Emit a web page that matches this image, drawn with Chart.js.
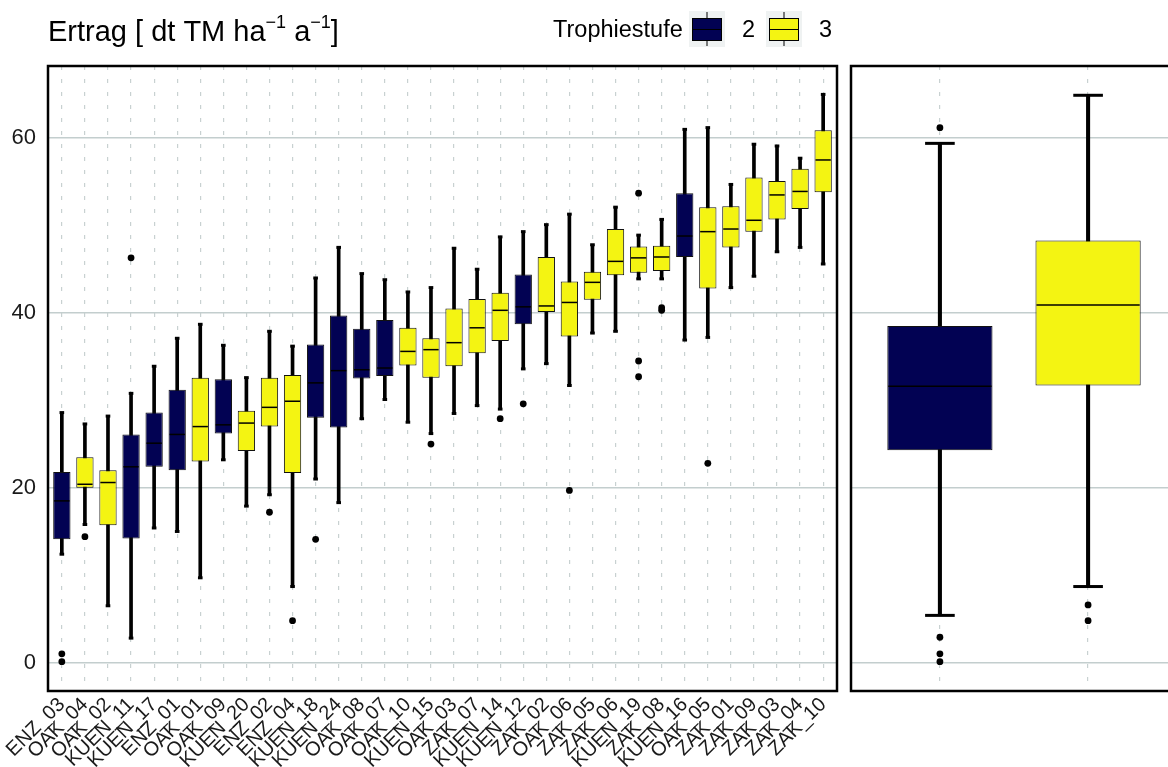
<!DOCTYPE html>
<html>
<head>
<meta charset="utf-8">
<script src="https://cdn.jsdelivr.net/npm/chart.js@4/dist/chart.umd.min.js"></script>
<style>
  html, body { margin: 0; padding: 0; background: #fff; overflow: hidden; width: 1168px; height: 767px; }
  #leftWrap { position: absolute; left: 0; top: 0; }
  #rightWrap { position: absolute; left: 840px; top: 0; }
</style>
</head>
<body>
<div id="leftWrap"><canvas id="siteChart" width="845" height="767"></canvas></div>
<div id="rightWrap"><canvas id="groupChart" width="345" height="767"></canvas></div>
<script>
// sites, sorted by median yield
const sites = ['ENZ_03', 'OAK_04', 'OAK_02', 'KUEN_11', 'KUEN_17', 'ENZ_01', 'OAK_01', 'OAK_09', 'KUEN_20',
  'ENZ_02', 'ENZ_04', 'KUEN_18', 'KUEN_24', 'OAK_08', 'OAK_07', 'OAK_10', 'KUEN_15', 'OAK_03', 'ZAK_07',
  'KUEN_14', 'KUEN_12', 'ZAK_02', 'OAK_06', 'ZAK_05', 'ZAK_06', 'KUEN_19', 'ZAK_08', 'KUEN_16', 'OAK_05',
  'ZAK_01', 'ZAK_09', 'ZAK_03', 'ZAK_04', 'ZAK_10'];
const trophie = [2, 3, 3, 2, 2, 2, 3, 2, 3, 3, 3, 2, 2, 2, 2, 3, 3, 3, 3, 3, 2, 3, 3, 3, 3, 3, 3, 2, 3, 3, 3, 3, 3, 3];

const lowWhisker  = [12.4, 15.8, 6.5, 2.8, 15.4, 15.0, 9.7, 23.2, 17.9, 19.2, 8.7, 21.0, 18.3, 27.9, 30.1, 27.5, 26.2,
  28.5, 29.4, 29.0, 33.6, 34.2, 31.7, 37.7, 37.9, 43.9, 43.9, 36.9, 37.2, 42.9, 44.2, 47.0, 47.5, 45.6];
const q1          = [14.1, 20.0, 15.7, 14.2, 22.4, 22.0, 23.0, 26.2, 24.2, 27.0, 21.7, 28.0, 26.9, 32.5, 32.8, 34.0, 32.6,
  33.9, 35.4, 36.8, 38.7, 40.1, 37.3, 41.5, 44.3, 44.6, 44.8, 46.4, 42.8, 47.5, 49.3, 50.7, 51.9, 53.8];
const median      = [18.5, 20.4, 20.6, 22.4, 25.1, 26.1, 27.0, 27.2, 27.4, 29.2, 29.9, 32.0, 33.4, 33.5, 33.7, 35.6, 35.8,
  36.6, 38.3, 40.3, 40.7, 40.8, 41.2, 43.5, 45.9, 46.3, 46.4, 48.8, 49.3, 49.6, 50.6, 53.5, 53.9, 57.5];
const q3          = [21.8, 23.5, 22.0, 26.1, 28.6, 31.2, 32.6, 32.4, 28.8, 32.6, 32.9, 36.4, 39.7, 38.2, 39.2, 38.3, 37.1,
  40.5, 41.6, 42.3, 44.4, 46.4, 43.6, 44.7, 49.6, 47.6, 47.7, 53.7, 52.1, 52.2, 55.5, 55.1, 56.5, 60.9];
const highWhisker = [28.6, 27.3, 28.2, 30.8, 33.9, 37.1, 38.7, 36.3, 32.6, 37.9, 36.2, 44.0, 47.5, 44.5, 43.8, 42.4, 42.9,
  47.4, 45.0, 48.7, 49.3, 50.1, 51.3, 47.8, 52.1, 48.9, 50.7, 61.0, 61.2, 54.7, 59.3, 59.1, 57.7, 65.0];
const outliers = [[1.0, 0.1], [14.4], [], [46.3], [], [], [], [], [], [17.2], [4.8], [14.1], [], [], [], [], [25.0],
  [], [], [27.9], [29.6], [], [19.7], [], [], [53.7, 34.5, 32.7], [40.3, 40.6], [], [22.8], [], [], [], [], []];

// pooled by Trophiestufe
const groups = ['2', '3'];
const groupLow = [5.4, 8.7];
const groupQ1 = [24.3, 31.7];
const groupMedian = [31.6, 40.9];
const groupQ3 = [38.5, 48.3];
const groupHigh = [59.4, 64.9];
const groupOutliers = [[61.2, 2.9, 1.0, 0.1], [6.6, 4.8]];

const yTicks = [0, 20, 40, 60];

const fillColors = { 2: '#020253', 3: '#f4f412' };
const font = 'Liberation Sans';

// whisker caps, medians and panel frame drawn on top of the bars
function boxExtras(med, low, high, boxWidth, capWidth) {
  return {
    id: 'boxExtras',
    afterDatasetsDraw(chart) {
      const { ctx, scales: { x, y } } = chart;
      const step = x.getPixelForValue(2) - x.getPixelForValue(1);
      ctx.save();
      ctx.strokeStyle = '#000';
      med.forEach((m, i) => {
        const cx = x.getPixelForValue(i + 1);
        const half = step * boxWidth / 2;
        ctx.lineWidth = 1.5;
        ctx.beginPath();
        ctx.moveTo(cx - half + 1, y.getPixelForValue(m));
        ctx.lineTo(cx + half - 1, y.getPixelForValue(m));
        ctx.stroke();
        ctx.lineWidth = 3;
        [low[i], high[i]].forEach(v => {
          const py = y.getPixelForValue(v);
          ctx.beginPath();
          ctx.moveTo(cx - step * capWidth / 2, py);
          ctx.lineTo(cx + step * capWidth / 2, py);
          ctx.stroke();
        });
      });
      ctx.restore();
    },
    afterDraw(chart) {
      const { ctx, chartArea: a } = chart;
      ctx.save();
      ctx.strokeStyle = '#000';
      ctx.lineWidth = 2.5;
      ctx.strokeRect(a.left, a.top, a.right - a.left, a.bottom - a.top);
      ctx.restore();
    }
  };
}

// title and legend at the top
const header = {
  id: 'header',
  afterDraw(chart) {
    const ctx = chart.ctx;
    ctx.save();
    ctx.fillStyle = '#000';
    ctx.textBaseline = 'alphabetic';
    let xPos = 48;
    const parts = [['Ertrag [ dt TM ha', 29, 0], ['\u22121', 18, -13], [' a', 29, 0], ['\u22121', 18, -13], [']', 29, 0]];
    parts.forEach(p => {
      ctx.font = p[1] + 'px "' + font + '"';
      ctx.fillText(p[0], xPos, 41 + p[2]);
      xPos += ctx.measureText(p[0]).width;
    });

    ctx.font = '23.5px "' + font + '"';
    ctx.fillText('Trophiestufe', 553, 37);
    const keys = [[689, '2', 742], [766, '3', 819]];
    keys.forEach(k => {
      const kx = k[0];
      ctx.fillStyle = '#eff2f2';
      ctx.fillRect(kx, 11, 36, 36);
      ctx.strokeStyle = '#000';
      ctx.lineWidth = 1;
      ctx.beginPath();
      ctx.moveTo(kx + 18, 12); ctx.lineTo(kx + 18, 46);
      ctx.stroke();
      ctx.fillStyle = fillColors[k[1]];
      ctx.fillRect(kx + 3.5, 18.5, 29, 22);
      ctx.strokeRect(kx + 3.5, 18.5, 29, 22);
      ctx.beginPath();
      ctx.moveTo(kx + 3.5, 29.5); ctx.lineTo(kx + 32.5, 29.5);
      ctx.stroke();
      ctx.fillStyle = '#000';
      ctx.font = '23.5px "' + font + '"';
      ctx.fillText(k[1], k[2], 37);
    });
    ctx.restore();
  }
};

function boxDatasets(colors, lo, a, b, hi, outs, boxWidth, whiskerWidth) {
  const points = [];
  outs.forEach((list, i) => list.forEach(v => points.push({ x: i + 1, y: v })));
  return [
    {
      type: 'bar',
      data: lo.map((v, i) => ({ x: i + 1, y: [v, hi[i]] })),
      backgroundColor: '#000',
      barThickness: whiskerWidth,
      grouped: false,
      order: 2
    },
    {
      type: 'bar',
      data: a.map((v, i) => ({ x: i + 1, y: [v, b[i]] })),
      backgroundColor: colors,
      borderColor: '#111',
      borderWidth: 1,
      borderSkipped: false,
      barPercentage: boxWidth,
      categoryPercentage: 1,
      grouped: false,
      order: 1
    },
    {
      type: 'line',
      data: points,
      showLine: false,
      pointRadius: 3.4,
      pointBackgroundColor: '#000',
      pointBorderWidth: 0,
      order: 0
    }
  ];
}

function yScale(showLabels) {
  return {
    min: -3.25,
    max: 68.25,
    afterBuildTicks: s => { s.ticks = yTicks.map(v => ({ value: v })); },
    afterFit: s => { s.width = showLabels ? 48 : 0; },
    ticks: { display: showLabels, color: '#1a1a1a', padding: 12, font: { family: font, size: 22 } },
    grid: { color: '#c3cece', lineWidth: 1.5, drawTicks: false },
    border: { display: false }
  };
}

function xScale(names, showLabels) {
  return {
    type: 'linear',
    offset: false,
    min: 0.4,
    max: names.length + 0.6,
    afterBuildTicks: s => { s.ticks = names.map((_, i) => ({ value: i + 1 })); },
    afterFit: s => { s.height = showLabels ? 76 : 0; },
    ticks: {
      display: showLabels,
      autoSkip: false,
      minRotation: 45,
      maxRotation: 45,
      padding: 2,
      color: '#1a1a1a',
      font: { family: font, size: 20 },
      callback: (v, i) => names[i]
    },
    grid: { color: '#c8d1d1', lineWidth: 1.2, drawTicks: false, offset: false },
    border: { display: false, dash: [4, 9] }
  };
}

new Chart(document.getElementById('siteChart'), {
  type: 'bar',
  data: {
    datasets: boxDatasets(trophie.map(t => fillColors[t]), lowWhisker, q1, q3, highWhisker, outliers, 0.75, 3)
  },
  options: {
    responsive: false,
    animation: false,
    layout: { padding: { left: 0, right: 8, top: 66, bottom: 0 } },
    plugins: { legend: { display: false }, tooltip: { enabled: false } },
    scales: { x: xScale(sites, true), y: yScale(true) }
  },
  plugins: [boxExtras(median, lowWhisker, highWhisker, 0.75, 0.2), header]
});

new Chart(document.getElementById('groupChart'), {
  type: 'bar',
  data: {
    datasets: boxDatasets(groups.map(g => fillColors[g]), groupLow, groupQ1, groupQ3, groupHigh, groupOutliers, 0.71, 3.4)
  },
  options: {
    responsive: false,
    animation: false,
    layout: { padding: { left: 11, right: 8, top: 66, bottom: 76 } },
    plugins: { legend: { display: false }, tooltip: { enabled: false } },
    scales: { x: xScale(groups, false), y: yScale(false) }
  },
  plugins: [boxExtras(groupMedian, groupLow, groupHigh, 0.71, 0.2)]
});
</script>
</body>
</html>
